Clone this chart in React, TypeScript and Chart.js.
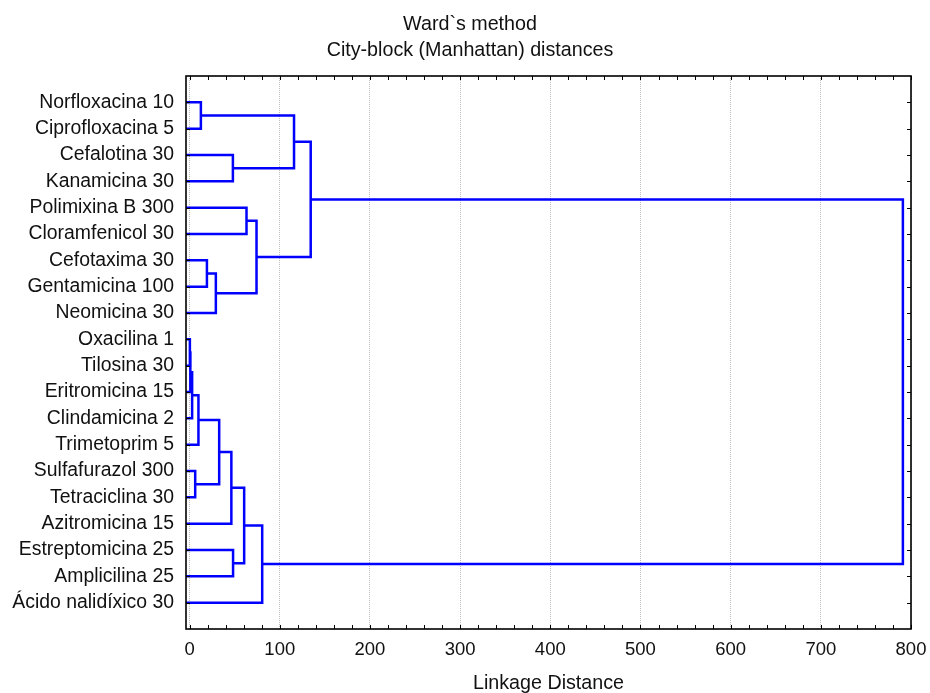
import { useEffect, useRef } from 'react';
import { Chart, registerables } from 'chart.js';

Chart.register(...registerables);

// Leaves, top to bottom
const leafLabels = [
  'Norfloxacina 10',
  'Ciprofloxacina 5',
  'Cefalotina 30',
  'Kanamicina 30',
  'Polimixina B 300',
  'Cloramfenicol 30',
  'Cefotaxima 30',
  'Gentamicina 100',
  'Neomicina 30',
  'Oxacilina 1',
  'Tilosina 30',
  'Eritromicina 15',
  'Clindamicina 2',
  'Trimetoprim 5',
  'Sulfafurazol 300',
  'Tetraciclina 30',
  'Azitromicina 15',
  'Estreptomicina 25',
  'Amplicilina 25',
  'Ácido nalidíxico 30',
];

// Linkage: merge k joins mergeLeft[k] and mergeRight[k] into cluster id (20 + k)
const mergeLeft = [9, 20, 21, 14, 22, 0, 6, 26, 24, 28, 2, 17, 29, 4, 33, 32, 25, 36, 37];
const mergeRight = [10, 11, 12, 15, 13, 1, 7, 8, 23, 16, 3, 18, 31, 5, 27, 19, 30, 34, 35];
const mergeHeight = [0.3, 0.8, 2.8, 6.2, 9.8, 12.5, 19.2, 29.1, 32.8, 46.3, 48.0, 48.2, 60.5, 63.1, 74.2, 80.5, 115.8, 134.3, 791];

const xTickValues = [0, 100, 200, 300, 400, 500, 600, 700, 800];
const xMinorStep = 20;
const X_MIN = -4;
const X_MAX = 800;

const FONT = 'Liberation Sans, Arial, Helvetica, sans-serif';
const BLUE = '#0000ff';

function buildDatasets() {
  const n = leafLabels.length;
  const pos: number[] = leafLabels.map((_, i) => i + 1);
  const hgt: number[] = leafLabels.map(() => X_MIN);
  const sets: any[] = [];
  for (let k = 0; k < mergeHeight.length; k++) {
    const a = mergeLeft[k];
    const b = mergeRight[k];
    const h = mergeHeight[k];
    sets.push({
      data: [
        { x: hgt[a], y: pos[a] },
        { x: h, y: pos[a] },
        { x: h, y: pos[b] },
        { x: hgt[b], y: pos[b] },
      ],
      showLine: true,
      borderColor: BLUE,
      backgroundColor: BLUE,
      borderWidth: 2.5,
      pointRadius: 0,
      pointHoverRadius: 0,
      tension: 0,
      fill: false,
      borderJoinStyle: 'miter',
      borderCapStyle: 'butt',
    });
    pos[n + k] = (pos[a] + pos[b]) / 2;
    hgt[n + k] = h;
  }
  return sets;
}

const frameTicks = {
  id: 'frameTicks',
  afterDatasetsDraw(chart: any) {
    const { ctx, chartArea, scales } = chart;
    const { left, right, top, bottom } = chartArea;
    const x = scales.x;
    const y = scales.y;
    ctx.save();
    ctx.strokeStyle = '#000';
    ctx.lineWidth = 1;
    ctx.beginPath();
    for (let v = xTickValues[0]; v <= X_MAX; v += xMinorStep) {
      const px = Math.round(x.getPixelForValue(v)) + 0.5;
      ctx.moveTo(px, bottom);
      ctx.lineTo(px, bottom - 4);
      ctx.moveTo(px, top);
      ctx.lineTo(px, top + 4);
    }
    for (let i = 1; i <= leafLabels.length; i++) {
      const py = Math.round(y.getPixelForValue(i)) + 0.5;
      ctx.moveTo(left, py);
      ctx.lineTo(left + 4, py);
      ctx.moveTo(right, py);
      ctx.lineTo(right - 4, py);
    }
    ctx.stroke();
    ctx.lineWidth = 1.6;
    ctx.strokeRect(left, top, right - left, bottom - top);
    ctx.restore();
  },
};

export default function App() {
  const ref = useRef<HTMLCanvasElement | null>(null);
  useEffect(() => {
    if (!ref.current) return;
    const chart = new Chart(ref.current, {
      type: 'scatter',
      data: { datasets: buildDatasets() },
      options: {
        animation: false,
        responsive: false,
        maintainAspectRatio: false,
        layout: { padding: { left: 10, right: 0, top: 0, bottom: 0 } },
        plugins: {
          legend: { display: false },
          tooltip: { enabled: false },
          title: {
            display: true,
            text: ['Ward`s method', 'City-block (Manhattan) distances'],
            color: '#111',
            font: { family: FONT, size: 19.7, weight: 'normal', lineHeight: 26 / 19.7 },
            padding: { top: 12, bottom: 12 },
          },
        },
        scales: {
          x: {
            type: 'linear',
            min: X_MIN,
            max: X_MAX,
            afterBuildTicks: (s: any) => {
              s.ticks = xTickValues.map((v) => ({ value: v }));
            },
            afterFit: (s: any) => {
              s.height = 64;
            },
            ticks: {
              color: '#111',
              font: { family: FONT, size: 18.5, lineHeight: 42 / 18.5 },
              padding: 0,
              maxRotation: 0,
              autoSkip: false,
            },
            grid: {
              display: true,
              color: '#bdbdbd',
              lineWidth: 1,
              drawTicks: false,
            },
            border: { display: false, dash: [1, 1] },
            title: {
              display: true,
              text: 'Linkage Distance',
              color: '#111',
              font: { family: FONT, size: 19.7, lineHeight: 1 },
              padding: { top: 0, bottom: 0 },
            },
          },
          y: {
            type: 'linear',
            min: 0,
            max: leafLabels.length + 1,
            reverse: true,
            afterBuildTicks: (s: any) => {
              s.ticks = leafLabels.map((_, i) => ({ value: i + 1 }));
            },
            afterFit: (s: any) => {
              s.width = 176;
            },
            ticks: {
              color: '#111',
              font: { family: FONT, size: 19.4 },
              padding: 12,
              autoSkip: false,
              callback: (v: any) => leafLabels[Number(v) - 1] ?? '',
            },
            grid: { display: false, drawTicks: false },
            border: { display: false },
          },
          y2: {
            type: 'linear',
            position: 'right',
            min: 0,
            max: leafLabels.length + 1,
            ticks: { display: false },
            grid: { display: false, drawTicks: false },
            border: { display: false },
            afterFit: (s: any) => {
              s.width = 19;
            },
          },
        },
      },
      plugins: [frameTicks],
    });
    return () => chart.destroy();
  }, []);
  return (
    <div style={{ position: 'absolute', left: 0, top: 0, width: 930, height: 693, background: '#fff' }}>
      <canvas ref={ref} width={930} height={693} style={{ width: 930, height: 693, display: 'block' }} />
    </div>
  );
}
